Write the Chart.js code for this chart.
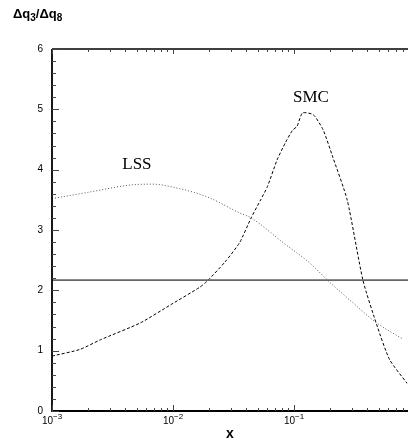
<!DOCTYPE html>
<html>
<head>
<meta charset="utf-8">
<script src="https://cdn.jsdelivr.net/npm/chart.js@4"></script>
<style>
  body { margin: 0; background: #fff; }
  #wrap { position: relative; width: 408px; height: 444px; }
  #title { position: absolute; left: 13px; top: 6px; font: bold 13px "Liberation Sans", Arial, sans-serif; color: #000; }
  #title sub { font-size: 10px; vertical-align: -3px; line-height: 0; }
</style>
</head>
<body>
<div id="wrap">
  <div id="title">&Delta;q<sub>3</sub>/&Delta;q<sub>8</sub></div>
  <canvas id="chart" width="408" height="444"></canvas>
</div>
<script>
// valeurs
const lssX = [0.001, 0.00206, 0.00468, 0.00684, 0.0100, 0.0191, 0.0358, 0.0442, 0.0813, 0.1355, 0.191, 0.308, 0.467, 0.796];
const lssY = [3.52, 3.63, 3.75, 3.76, 3.71, 3.55, 3.28, 3.20, 2.79, 2.45, 2.16, 1.79, 1.48, 1.19];

const smcX = [0.001, 0.0017, 0.00251, 0.00537, 0.00955, 0.0166, 0.0191, 0.0269, 0.0355, 0.0442, 0.0530, 0.0603, 0.0724, 0.0850, 0.0970, 0.106, 0.1175, 0.1445, 0.174, 0.209, 0.275, 0.372, 0.490, 0.617, 0.859];
const smcY = [0.91, 1.02, 1.18, 1.46, 1.76, 2.05, 2.15, 2.47, 2.79, 3.20, 3.50, 3.72, 4.16, 4.45, 4.65, 4.72, 4.94, 4.91, 4.66, 4.21, 3.50, 2.16, 1.39, 0.85, 0.46];

const flatX = [0.001, 0.875];
const flatY = [2.17, 2.17];

const xDecades = [-3, -2, -1];
const yTicks = [0, 1, 2, 3, 4, 5, 6];

const curveLabels = [
  { text: 'LSS', x: 0.00503, y: 4.09 },
  { text: 'SMC', x: 0.138, y: 5.19 }
];

function toPoints(xs, ys) {
  return xs.map((x, i) => ({ x: x, y: ys[i] }));
}

// cadre, graduations internes, étiquettes 10^n et noms des courbes
const decorPlugin = {
  id: 'decor',
  afterDraw(chart) {
    const ctx = chart.ctx;
    const xs = chart.scales.x, ys = chart.scales.y;
    const a = chart.chartArea;
    ctx.save();
    ctx.strokeStyle = '#000';
    ctx.lineWidth = 1.8;
    ctx.beginPath();
    ctx.moveTo(a.left, a.top); ctx.lineTo(a.left, a.bottom); ctx.lineTo(a.right, a.bottom);
    ctx.stroke();
    ctx.lineWidth = 1.3;
    ctx.beginPath();
    ctx.moveTo(a.left, a.top); ctx.lineTo(a.right, a.top);
    ctx.stroke();

    ctx.strokeStyle = '#444';
    ctx.lineWidth = 1;
    for (const d of xDecades) {
      for (let m = 1; m <= 9; m++) {
        const v = m * Math.pow(10, d);
        if (v > xs.max) continue;
        const px = Math.round(xs.getPixelForValue(v)) + 0.5;
        const len = m === 1 ? 6 : 3;
        ctx.beginPath();
        ctx.moveTo(px, a.bottom); ctx.lineTo(px, a.bottom - len);
        ctx.moveTo(px, a.top); ctx.lineTo(px, a.top + (m === 1 ? 5 : 3));
        ctx.stroke();
      }
    }
    for (let i = 0; i <= 30; i++) {
      const v = i * 0.2;
      const py = Math.round(ys.getPixelForValue(v)) + 0.5;
      const len = i % 5 === 0 ? 7 : 4;
      ctx.beginPath();
      ctx.moveTo(a.left, py); ctx.lineTo(a.left + len, py);
      ctx.stroke();
    }

    ctx.fillStyle = '#000';
    ctx.textBaseline = 'alphabetic';
    for (const d of xDecades) {
      const px = xs.getPixelForValue(Math.pow(10, d));
      ctx.font = '10px "Liberation Sans", Arial, sans-serif';
      const w1 = ctx.measureText('10').width;
      ctx.font = '8px "Liberation Sans", Arial, sans-serif';
      const exp = '\u2212' + (-d);
      const w2 = ctx.measureText(exp).width;
      const x0 = px - (w1 + w2) / 2;
      ctx.font = '10px "Liberation Sans", Arial, sans-serif';
      ctx.textAlign = 'left';
      ctx.fillText('10', x0, a.bottom + 13);
      ctx.font = '8px "Liberation Sans", Arial, sans-serif';
      ctx.fillText(exp, x0 + w1, a.bottom + 8);
    }

    ctx.font = '17px "Liberation Serif", "Times New Roman", serif';
    ctx.textAlign = 'center';
    ctx.textBaseline = 'middle';
    for (const l of curveLabels) {
      ctx.fillText(l.text, xs.getPixelForValue(l.x), ys.getPixelForValue(l.y));
    }
    ctx.restore();
  }
};

new Chart(document.getElementById('chart'), {
  type: 'line',
  data: {
    datasets: [
      {
        label: 'flat',
        data: toPoints(flatX, flatY),
        borderColor: '#666',
        borderWidth: 1.7,
        pointRadius: 0,
        tension: 0
      },
      {
        label: 'LSS',
        data: toPoints(lssX, lssY),
        borderColor: '#555',
        borderWidth: 1,
        borderDash: [1, 2],
        pointRadius: 0,
        cubicInterpolationMode: 'monotone'
      },
      {
        label: 'SMC',
        data: toPoints(smcX, smcY),
        borderColor: '#000',
        borderWidth: 1,
        borderDash: [3, 2],
        pointRadius: 0,
        tension: 0.2
      }
    ]
  },
  options: {
    responsive: false,
    animation: false,
    layout: { padding: { top: 49, right: 0, left: 0, bottom: 0 } },
    plugins: { legend: { display: false }, tooltip: { enabled: false } },
    scales: {
      x: {
        type: 'logarithmic',
        min: 0.001,
        max: 0.875,
        grid: { display: false, drawTicks: false },
        border: { display: false },
        ticks: { display: false },
        title: {
          display: true,
          text: 'x',
          font: { family: '"Liberation Sans", Arial, sans-serif', size: 14, weight: 'bold' },
          color: '#000',
          padding: { top: 0, bottom: 1 }
        },
        afterFit(scale) { scale.height = 33; }
      },
      y: {
        min: 0,
        max: 6,
        afterBuildTicks(scale) { scale.ticks = yTicks.map(v => ({ value: v })); },
        grid: { display: false, drawTicks: false },
        border: { display: false },
        ticks: {
          padding: 9,
          color: '#000',
          font: { family: '"Liberation Sans", Arial, sans-serif', size: 10 }
        },
        afterFit(scale) { scale.width = 52; }
      }
    }
  },
  plugins: [decorPlugin]
});
</script>
</body>
</html>
